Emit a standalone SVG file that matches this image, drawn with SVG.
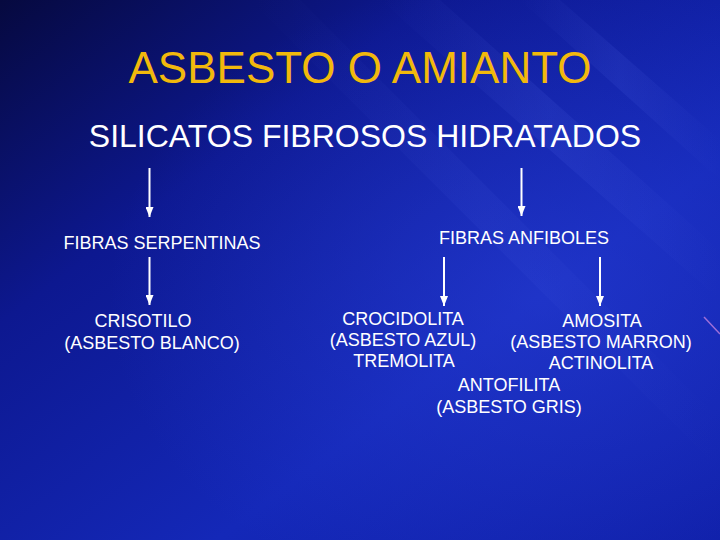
<svg xmlns="http://www.w3.org/2000/svg" width="720" height="540" viewBox="0 0 720 540">
<defs>
<linearGradient id="bg" x1="0" y1="0" x2="1" y2="1">
<stop offset="0" stop-color="#06093f"/>
<stop offset="0.3" stop-color="#0d1890"/>
<stop offset="0.65" stop-color="#1428b8"/>
<stop offset="1" stop-color="#0f1fa8"/>
</linearGradient>
<radialGradient id="glow" cx="0.75" cy="0.55" r="0.6">
<stop offset="0" stop-color="#2a40d8" stop-opacity="0.5"/>
<stop offset="1" stop-color="#2a40d8" stop-opacity="0"/>
</radialGradient>
<linearGradient id="streak" x1="0" y1="0" x2="1" y2="0">
<stop offset="0" stop-color="#6a80ff" stop-opacity="0"/>
<stop offset="0.5" stop-color="#6a80ff" stop-opacity="0.1"/>
<stop offset="1" stop-color="#6a80ff" stop-opacity="0"/>
</linearGradient>
<marker id="ah" viewBox="0 0 10 8" refX="10" refY="4" markerWidth="10" markerHeight="8" markerUnits="userSpaceOnUse" orient="auto">
<path d="M0,0 L10,4 L0,8 Z" fill="#ffffff"/>
</marker>
<style>
.t{font-family:"Liberation Sans",Arial,sans-serif;fill:#ffffff;}
.h{font-size:18px;}
.c{stroke:#ffffff;stroke-width:2;fill:none;}
</style>
</defs>
<rect width="720" height="540" fill="url(#bg)"/>
<rect width="720" height="540" fill="url(#glow)"/>
<g>
<path d="M380,0 L440,0 L720,250 L720,300 Z" fill="url(#streak)"/>
<path d="M520,0 L560,0 L720,140 L720,180 Z" fill="url(#streak)"/>
<path d="M250,0 L300,0 L720,420 L720,470 Z" fill="url(#streak)" opacity="0.6"/>
</g>
<line x1="704" y1="317" x2="720" y2="334" stroke="#c080e0" stroke-width="1.5" opacity="0.8"/>

<g id="title"><text class="t" x="360" y="83" text-anchor="middle" font-size="44" style="fill:#f2b90c">ASBESTO O AMIANTO</text></g>
<g id="silicatos"><text class="t" x="365" y="147" text-anchor="middle" font-size="32">SILICATOS FIBROSOS HIDRATADOS</text></g>
<g id="serpentinas"><text class="t h" x="162" y="249" text-anchor="middle">FIBRAS SERPENTINAS</text></g>
<g id="anfiboles"><text class="t h" x="524" y="244" text-anchor="middle">FIBRAS ANFIBOLES</text></g>
<g id="crisotilo">
<text class="t h" x="143" y="327" text-anchor="middle">CRISOTILO</text>
<text class="t h" x="152" y="349" text-anchor="middle">(ASBESTO BLANCO)</text>
</g>
<g id="crocidolita">
<text class="t h" x="403" y="325" text-anchor="middle">CROCIDOLITA</text>
<text class="t h" x="403" y="346" text-anchor="middle">(ASBESTO AZUL)</text>
<text class="t h" x="404" y="367" text-anchor="middle">TREMOLITA</text>
</g>
<g id="amosita">
<text class="t h" x="602" y="327" text-anchor="middle">AMOSITA</text>
<text class="t h" x="601" y="348" text-anchor="middle">(ASBESTO MARRON)</text>
<text class="t h" x="601" y="369" text-anchor="middle">ACTINOLITA</text>
</g>
<g id="antofilita">
<text class="t h" x="509" y="391" text-anchor="middle">ANTOFILITA</text>
<text class="t h" x="509" y="413" text-anchor="middle">(ASBESTO GRIS)</text>
</g>
<g id="connectors">
<line class="c" x1="149.5" y1="168" x2="149.5" y2="217" marker-end="url(#ah)"/>
<line class="c" x1="521.5" y1="168" x2="521.5" y2="216" marker-end="url(#ah)"/>
<line class="c" x1="149.5" y1="257" x2="149.5" y2="305" marker-end="url(#ah)"/>
<line class="c" x1="444" y1="257" x2="444" y2="306" marker-end="url(#ah)"/>
<line class="c" x1="600" y1="257" x2="600" y2="306" marker-end="url(#ah)"/>
</g>
</svg>
